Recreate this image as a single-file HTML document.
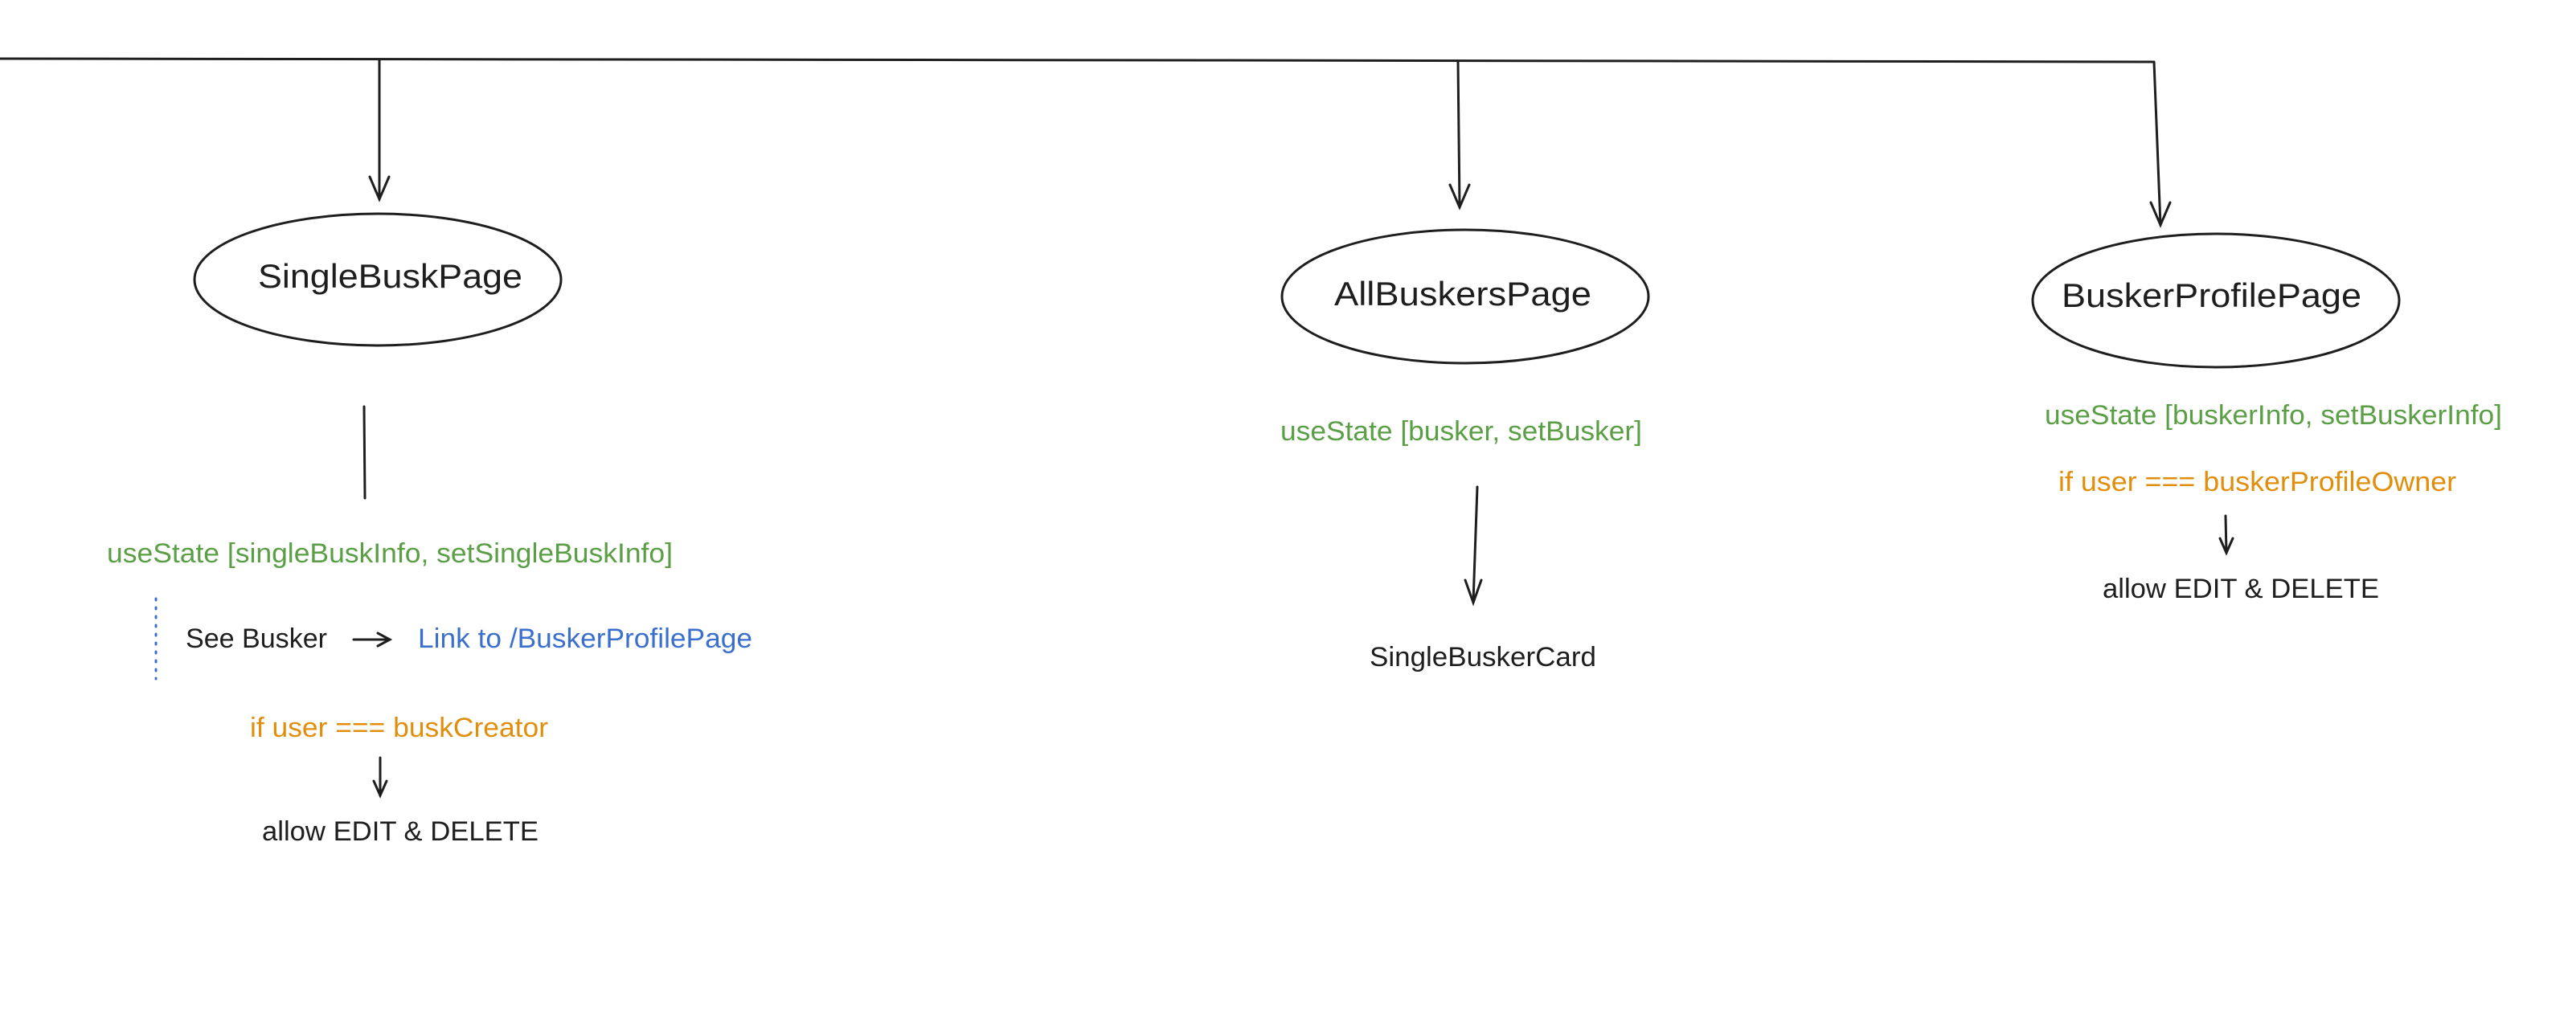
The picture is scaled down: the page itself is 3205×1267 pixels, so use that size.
<!DOCTYPE html>
<html><head><meta charset="utf-8"><style>
html,body{margin:0;padding:0;background:#fff;}
svg{display:block;}
text{font-family:"Liberation Sans",sans-serif;}
</style></head><body>
<svg width="3205" height="1267" viewBox="0 0 3205 1267" xmlns="http://www.w3.org/2000/svg">
<g stroke="#1e1e1e" stroke-width="3" fill="none" stroke-linecap="round">
<path d="M0 73 L1500 75 L2678 77"/>
<path d="M472 74 L472 246"/><path d="M460 220 L472 248 L484 220"/>
<ellipse cx="470" cy="348" rx="228" ry="82"/>
<path d="M453 506 L454 620"/>
<path d="M1814 76 L1816 257"/><path d="M1804 230 L1816 258 L1828 230"/>
<ellipse cx="1823" cy="369" rx="228" ry="83"/>
<path d="M2680 77 L2688 280"/><path d="M2676 252 L2688 280 L2700 252"/>
<ellipse cx="2757" cy="374" rx="228" ry="83"/>
<path d="M1838 606 L1833 749"/><path d="M1823 722 L1833 750 L1843 722"/>
<path d="M2769 642 L2770 688"/><path d="M2762 670 L2770 688 L2778 670"/>
<path d="M473 943 L473 990"/><path d="M465 972 L473 990 L481 972"/>
<path d="M440 796 L485 796"/><path d="M470 788 L485 796 L470 804"/>
</g>
<path d="M194 745 L194 845" stroke="#3b6fce" stroke-width="3" stroke-dasharray="2 9" stroke-linecap="round"/>
<g font-size="42" fill="#1e1e1e">
<text x="321" y="358" textLength="329" lengthAdjust="spacingAndGlyphs">SingleBuskPage</text>
<text x="1660" y="380" textLength="320" lengthAdjust="spacingAndGlyphs">AllBuskersPage</text>
<text x="2565" y="382" textLength="373" lengthAdjust="spacingAndGlyphs">BuskerProfilePage</text>
</g>
<g font-size="34">
<text x="133" y="700" fill="#5a9e45" textLength="704" lengthAdjust="spacingAndGlyphs">useState [singleBuskInfo, setSingleBuskInfo]</text>
<text x="231" y="806" fill="#1e1e1e" textLength="176" lengthAdjust="spacingAndGlyphs">See Busker</text>
<text x="520" y="806" fill="#3b6fce" textLength="416" lengthAdjust="spacingAndGlyphs">Link to /BuskerProfilePage</text>
<text x="311" y="917" fill="#e08e0b" textLength="371" lengthAdjust="spacingAndGlyphs">if user === buskCreator</text>
<text x="326" y="1046" fill="#1e1e1e" textLength="344" lengthAdjust="spacingAndGlyphs">allow EDIT &amp; DELETE</text>
<text x="1593" y="548" fill="#5a9e45" textLength="450" lengthAdjust="spacingAndGlyphs">useState [busker, setBusker]</text>
<text x="1704" y="829" fill="#1e1e1e" textLength="282" lengthAdjust="spacingAndGlyphs">SingleBuskerCard</text>
<text x="2544" y="528" fill="#5a9e45" textLength="569" lengthAdjust="spacingAndGlyphs">useState [buskerInfo, setBuskerInfo]</text>
<text x="2561" y="611" fill="#e08e0b" textLength="495" lengthAdjust="spacingAndGlyphs">if user === buskerProfileOwner</text>
<text x="2616" y="744" fill="#1e1e1e" textLength="344" lengthAdjust="spacingAndGlyphs">allow EDIT &amp; DELETE</text>
</g>
</svg>
</body></html>
